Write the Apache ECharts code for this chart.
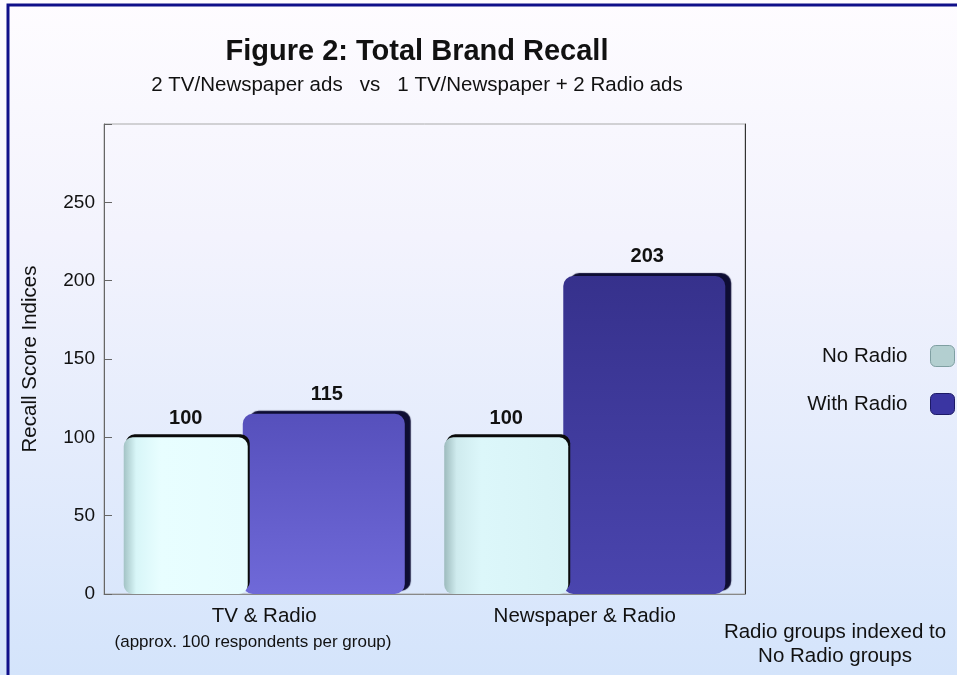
<!DOCTYPE html>
<html>
<head>
<meta charset="utf-8">
<script src="https://cdn.jsdelivr.net/npm/echarts@6/dist/echarts.min.js"></script>
<style>
html,body{margin:0;padding:0;}
#c{width:957px;height:675px;}
</style>
</head>
<body>
<div id="c"></div>
<script>
var categories = ['TV & Radio', 'Newspaper & Radio'];
var noRadio = [100, 100];
var withRadio = [115, 203];
var seriesNames = ['No Radio', 'With Radio'];
var yTicks = {min: 0, max: 300, interval: 50};

var FONT = '"Liberation Sans", Arial, sans-serif';
var chart = echarts.init(document.getElementById('c'));

// per-bar shading (style only)
var noRadioShade = [
  ['#a3c3c5', '#d8f6f8', '#e8feff', '#e6fcfe'],
  ['#9dbbbd', '#cfebee', '#dcf7fa', '#d8f3f6']
];
var withRadioShade = [
  ['#5650bc', '#6f69d8'],
  ['#36318c', '#4a45ae']
];

function noRadioItem(v, i) {
  var s = noRadioShade[i];
  return {value: v, itemStyle: {color: {type: 'linear', x: 0, y: 0, x2: 1, y2: 0, colorStops: [
    {offset: 0, color: s[0]}, {offset: 0.1, color: s[1]}, {offset: 0.3, color: s[2]}, {offset: 1, color: s[3]}]}}};
}
function withRadioItem(v, i) {
  var s = withRadioShade[i];
  return {value: v, itemStyle: {color: {type: 'linear', x: 0, y: 0, x2: 0, y2: 1, colorStops: [
    {offset: 0, color: s[0]}, {offset: 1, color: s[1]}]}}};
}

chart.setOption({
  backgroundColor: {
    type: 'linear', x: 0, y: 0, x2: 0, y2: 1,
    colorStops: [{offset: 0, color: '#fefcff'}, {offset: 0.35, color: '#f3f3fd'}, {offset: 1, color: '#d4e4fb'}]
  },
  animation: false,
  title: {
    text: 'Figure 2: Total Brand Recall',
    subtext: '2 TV/Newspaper ads   vs   1 TV/Newspaper + 2 Radio ads',
    left: 412, top: 32, textAlign: 'center',
    textStyle: {fontFamily: FONT, fontSize: 29, fontWeight: 'bold', color: '#111'},
    subtextStyle: {fontFamily: FONT, fontSize: 20.5, color: '#111'},
    itemGap: 9
  },
  legend: {
    orient: 'vertical', right: -3, top: 340, align: 'right',
    itemWidth: 24, itemHeight: 21, itemGap: 26,
    textStyle: {fontFamily: FONT, fontSize: 20.5, color: '#111', padding: [0, 18, 0, 0]},
    data: [
      {name: seriesNames[0], icon: 'roundRect', itemStyle: {color: '#b3cfd0', borderColor: '#7f9fa2', borderWidth: 1}},
      {name: seriesNames[1], icon: 'roundRect', itemStyle: {color: '#3a35a2', borderColor: '#1d1a66', borderWidth: 1}}
    ]
  },
  grid: {left: 104, right: 212, top: 124, bottom: 81, show: true, borderColor: '#aaaaaa', borderWidth: 1, backgroundColor: 'transparent'},
  xAxis: {
    type: 'category', data: categories,
    axisLine: {lineStyle: {color: '#888'}},
    axisTick: {show: false},
    axisLabel: {fontFamily: FONT, fontSize: 20.5, color: '#111', margin: 12}
  },
  yAxis: [{
    type: 'value', min: yTicks.min, max: yTicks.max, interval: yTicks.interval,
    name: 'Recall Score Indices', nameLocation: 'middle', nameRotate: 90, nameGap: 63,
    nameTextStyle: {fontFamily: FONT, fontSize: 20.5, color: '#111'},
    axisLine: {show: true, lineStyle: {color: '#666'}},
    axisTick: {show: true, inside: true, length: 8, lineStyle: {color: '#666'}},
    axisLabel: {fontFamily: FONT, fontSize: 19, color: '#111', margin: 9,
      formatter: function (v) { return v >= yTicks.max ? '' : v; }},
    splitLine: {show: false}
  }, {
    type: 'value', min: yTicks.min, max: yTicks.max, interval: yTicks.interval, position: 'right',
    axisLine: {show: true, lineStyle: {color: '#333'}},
    axisTick: {show: false}, axisLabel: {show: false}, splitLine: {show: false}
  }],
  series: [{
    name: seriesNames[0], type: 'bar', data: noRadio.map(noRadioItem), barWidth: 124, barGap: '-4%', z: 3,
    itemStyle: {
      color: '#b3cfd0',
      borderRadius: 9,
      shadowColor: '#0a0a0a', shadowOffsetX: 2, shadowOffsetY: -3, shadowBlur: 0
    },
    label: {show: true, position: 'top', distance: 9, fontFamily: FONT, fontSize: 20, fontWeight: 'bold', color: '#111'}
  }, {
    name: seriesNames[1], type: 'bar', data: withRadio.map(withRadioItem), barWidth: 162, z: 2,
    itemStyle: {
      color: '#3a35a2',
      borderRadius: 10,
      shadowColor: '#0e0d33', shadowOffsetX: 6, shadowOffsetY: -3, shadowBlur: 1
    },
    label: {show: true, position: 'top', distance: 9, offset: [3, 0], fontFamily: FONT, fontSize: 20, fontWeight: 'bold', color: '#111'}
  }],
  graphic: [
    {type: 'rect', shape: {x: 8, y: 5, width: 1200, height: 1200}, style: {fill: 'none', stroke: '#10108a', lineWidth: 3}, z: 100},
    {type: 'text', style: {x: 253, y: 634, text: '(approx. 100 respondents per group)', font: '17px ' + FONT, fill: '#111', align: 'center'}},
    {type: 'text', style: {x: 835, y: 620, text: 'Radio groups indexed to\nNo Radio groups', font: '20.5px ' + FONT, fill: '#111', align: 'center', lineHeight: 24}}
  ]
});
</script>
</body>
</html>
